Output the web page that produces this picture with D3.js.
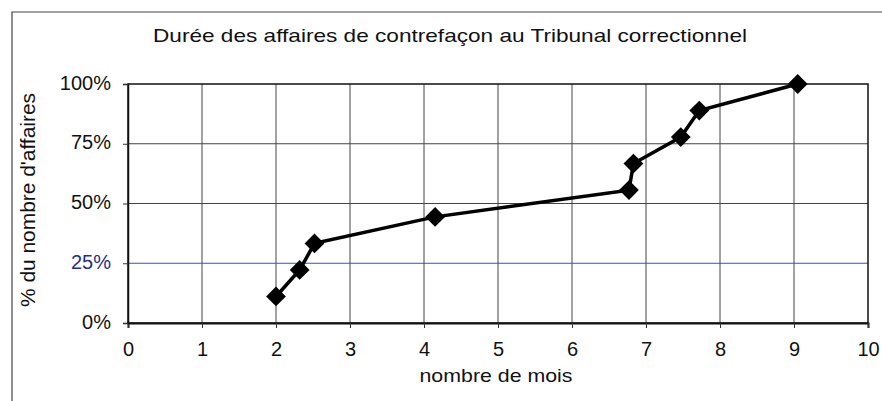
<!DOCTYPE html>
<html>
<head>
<meta charset="utf-8">
<script src="https://cdn.jsdelivr.net/npm/d3@7"></script>
<style>
  body { margin: 0; background: #fff; }
  text { font-family: "Liberation Sans", Arial, sans-serif; fill: #111; }
</style>
</head>
<body>
<script>
// duration (months) vs cumulative share of cases
var months = [2.0, 2.32, 2.52, 4.15, 6.77, 6.83, 7.47, 7.72, 9.05];
var shares = [0.111, 0.222, 0.333, 0.444, 0.556, 0.667, 0.778, 0.889, 1.0];
var xTicks = [0, 1, 2, 3, 4, 5, 6, 7, 8, 9, 10];
var yTicks = [0, 0.25, 0.5, 0.75, 1];

var w = 882, h = 401;
var plotL = 128, plotR = 868, plotT = 84, plotB = 323;

var svg = d3.select("body").append("svg")
    .attr("width", w)
    .attr("height", h);

// outer chart frame (cropped on right/bottom)
svg.append("path")
    .attr("d", "M12," + h + "V12H" + w)
    .attr("fill", "none")
    .attr("stroke", "#444")
    .attr("stroke-width", 1.2);

var x = d3.scaleLinear().domain([0, 10]).range([plotL, plotR]);
var y = d3.scaleLinear().domain([0, 1]).range([plotB, plotT]);

// gridlines
svg.append("g").selectAll("line")
    .data(xTicks.slice(1, -1))
    .enter().append("line")
    .attr("x1", d => x(d)).attr("x2", d => x(d))
    .attr("y1", plotT).attr("y2", plotB)
    .attr("stroke", "#444").attr("stroke-width", 1);

svg.append("g").selectAll("line")
    .data(yTicks.slice(1, -1))
    .enter().append("line")
    .attr("x1", plotL).attr("x2", plotR)
    .attr("y1", d => y(d)).attr("y2", d => y(d))
    .attr("stroke", d => d == 0.25 ? "#3a52b8" : "#444")
    .attr("stroke-width", 1);

// plot border
svg.append("rect")
    .attr("x", plotL).attr("y", plotT)
    .attr("width", plotR - plotL).attr("height", plotB - plotT)
    .attr("fill", "none")
    .attr("stroke", "#111")
    .attr("stroke-width", 1.5);

// axes
var xAxis = d3.axisBottom(x).tickValues(xTicks).tickSize(5).tickPadding(14)
    .tickFormat(d3.format("d"));
var gx = svg.append("g")
    .attr("transform", "translate(0," + plotB + ")")
    .call(xAxis);
gx.select(".domain").attr("stroke", "#111").attr("stroke-width", 2);
gx.selectAll(".tick line").attr("stroke", "#333");
gx.selectAll("text").attr("font-size", 20);
gx.attr("font-family", null);

var yAxis = d3.axisLeft(y).tickValues(yTicks).tickSize(5).tickPadding(12)
    .tickFormat(d3.format(".0%"));
var gy = svg.append("g")
    .attr("transform", "translate(" + plotL + ",0)")
    .call(yAxis);
gy.select(".domain").attr("stroke", "#111").attr("stroke-width", 1.5);
gy.selectAll(".tick line").attr("stroke", "#333");
gy.selectAll("text").attr("font-size", 20).attr("dy", "0.25em")
    .style("fill", d => d == 0.25 ? "#24308a" : "#111");
gy.attr("font-family", null);

// line + diamonds
var line = d3.line()
    .x((d, i) => x(months[i]))
    .y((d, i) => y(shares[i]));

svg.append("path")
    .datum(months)
    .attr("d", line)
    .attr("fill", "none")
    .attr("stroke", "#000")
    .attr("stroke-width", 3.5);

svg.append("g").selectAll("path")
    .data(months)
    .enter().append("path")
    .attr("transform", (d, i) => "translate(" + x(d) + "," + y(shares[i]) + ")")
    .attr("d", d3.symbol().type(d3.symbolDiamond2).size(250))
    .attr("fill", "#000");

// titles
svg.append("text")
    .attr("x", 450).attr("y", 42)
    .attr("text-anchor", "middle")
    .attr("font-size", 19)
    .attr("textLength", 594)
    .attr("lengthAdjust", "spacingAndGlyphs")
    .text("Durée des affaires de contrefaçon au Tribunal correctionnel");

svg.append("text")
    .attr("transform", "translate(35,200) rotate(-90)")
    .attr("text-anchor", "middle")
    .attr("font-size", 20)
    .attr("textLength", 214)
    .attr("lengthAdjust", "spacingAndGlyphs")
    .text("% du nombre d'affaires");

svg.append("text")
    .attr("x", 496).attr("y", 382)
    .attr("text-anchor", "middle")
    .attr("font-size", 19)
    .attr("textLength", 153)
    .attr("lengthAdjust", "spacingAndGlyphs")
    .text("nombre de mois");
</script>
</body>
</html>
